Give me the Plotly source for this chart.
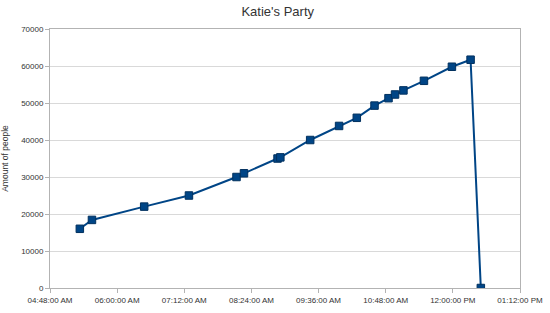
import plotly.graph_objects as go

times = ["05:20", "05:33", "06:29", "07:17", "08:08", "08:16", "08:52", "08:55",
         "09:27", "09:58", "10:17", "10:36", "10:51", "10:58", "11:07", "11:29",
         "11:59", "12:19", "12:30"]
people = [16000, 18400, 22000, 25000, 30000, 31000, 35000, 35300,
          40000, 43800, 46000, 49300, 51300, 52300, 53400, 56000,
          59800, 61700, 0]
day = "2012-01-01"
x = [f"{day} {t}:00" for t in times]

fig = go.Figure()
fig.add_trace(go.Scatter(
    x=x, y=people, mode="lines+markers",
    line=dict(color="#004586", width=2),
    marker=dict(symbol="square", size=7.5, color="#004586",
                line=dict(color="#00305e", width=1)),
    showlegend=False,
))

fig.update_layout(
    width=550, height=313,
    margin=dict(l=50, r=30, t=29, b=25),
    paper_bgcolor="white", plot_bgcolor="white",
    font=dict(family="Liberation Sans, Arial, sans-serif", size=8, color="#333333"),
    title=dict(text="Katie's Party", x=0.505, xanchor="center", y=0.965, yanchor="middle",
               font=dict(size=13, color="#333333")),
    xaxis=dict(
        type="date", automargin=False,
        range=[f"{day} 04:48:00", f"{day} 13:12:00"],
        tick0=f"{day} 04:48:00", dtick=72 * 60 * 1000,
        tickformat="%I:%M:%S %p",
        showgrid=False,
        showline=True, linecolor="#b3b3b3", linewidth=1, mirror=True,
        ticks="outside", ticklen=4, tickcolor="#b3b3b3",
        tickfont=dict(size=8, color="#333333"),
        zeroline=False,
    ),
    yaxis=dict(
        automargin=False,
        range=[0, 70000], dtick=10000, tickformat="d",
        showgrid=True, gridcolor="#d9d9d9", gridwidth=1,
        showline=True, linecolor="#b3b3b3", linewidth=1, mirror=True,
        ticks="outside", ticklen=4, tickcolor="#b3b3b3",
        tickfont=dict(size=8, color="#333333"),
        title=dict(text="Amount of people", font=dict(size=8.5, color="#333333")),
        zeroline=False,
    ),
)

fig.write_html("out.html")
